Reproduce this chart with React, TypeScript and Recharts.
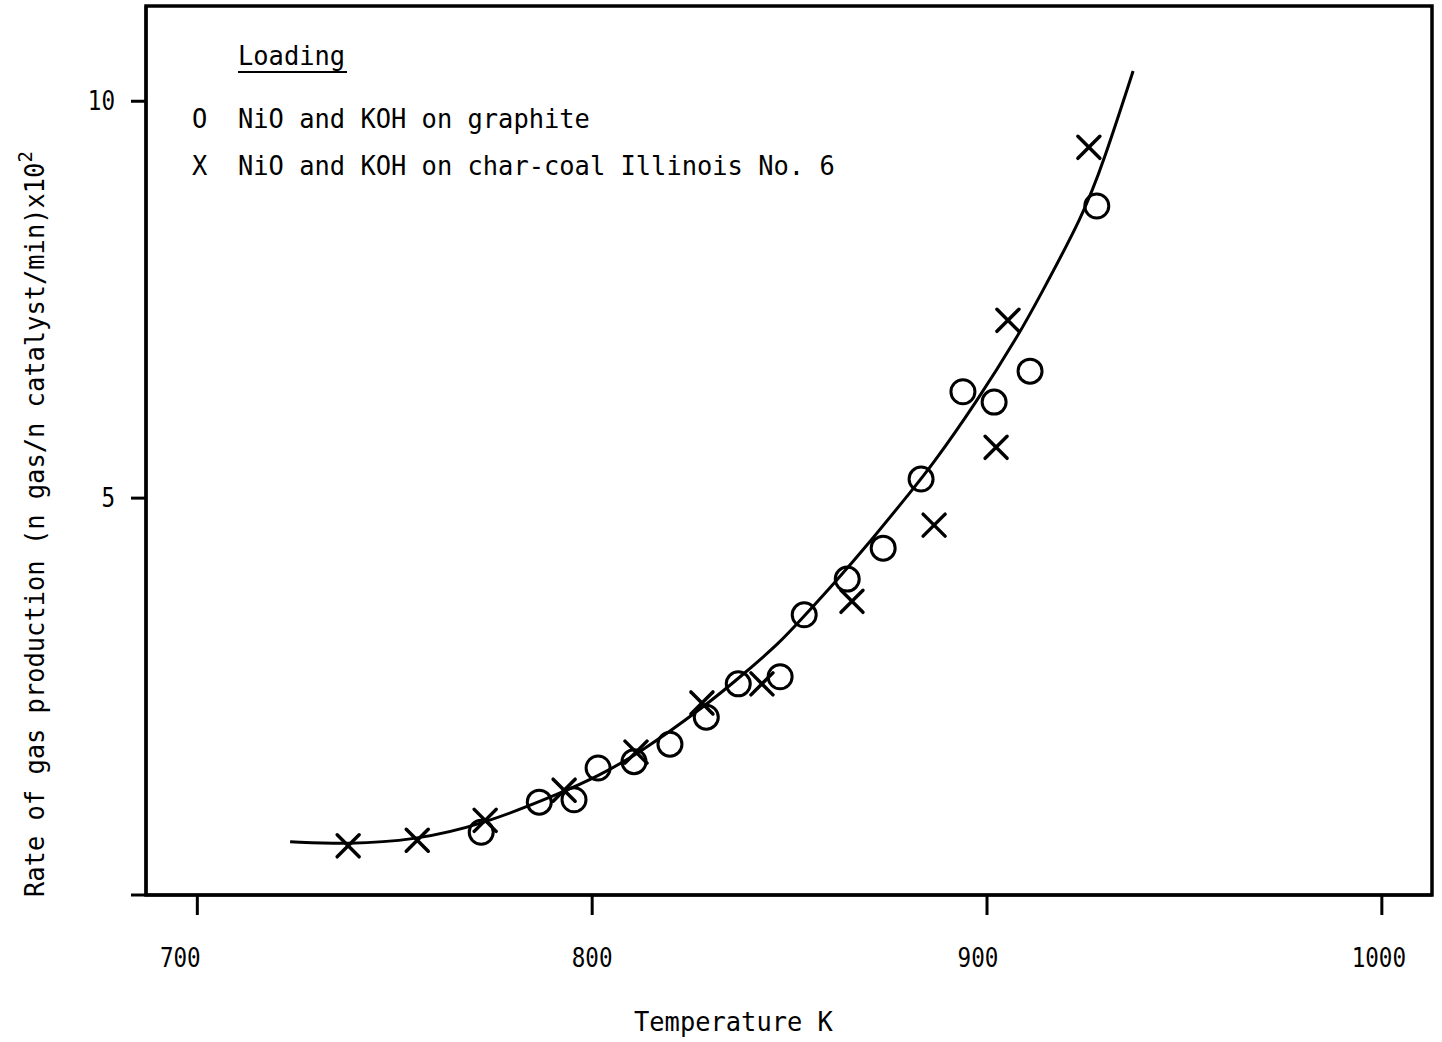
import React from 'react';
import { ComposedChart, Line, Scatter, XAxis, YAxis, ReferenceArea, Legend } from 'recharts';

// Fitted curve
const curveT = [723.5, 738.5, 754.7, 771.9, 792.9, 801.5, 811.1, 828.4, 839.2, 847.3, 852.7, 861.0, 870.4, 880.5, 885.6, 897.5, 908.4, 912.9, 924.3, 929.4, 937.0];
const curveV = [0.67, 0.64, 0.69, 0.88, 1.30, 1.50, 1.76, 2.37, 2.82, 3.17, 3.46, 3.91, 4.45, 5.07, 5.38, 6.22, 7.09, 7.50, 8.56, 9.22, 10.38];

// O : NiO and KOH on graphite
const graphiteT = [771.9, 786.6, 795.4, 801.5, 810.6, 819.7, 828.9, 837.0, 847.6, 853.7, 864.6, 873.7, 883.3, 893.9, 901.8, 910.9, 927.8];
const graphiteV = [0.79, 1.17, 1.20, 1.60, 1.68, 1.90, 2.24, 2.66, 2.75, 3.53, 3.98, 4.37, 5.24, 6.34, 6.21, 6.60, 8.68];

// X : NiO and KOH on char-coal Illinois No. 6
const charT = [738.2, 755.7, 772.9, 792.9, 811.1, 827.8, 843.0, 865.8, 886.6, 902.3, 905.3, 925.8];
const charV = [0.62, 0.69, 0.94, 1.32, 1.80, 2.42, 2.66, 3.70, 4.66, 5.64, 7.24, 9.42];

const xTicks = [700, 800, 900, 1000];
const yTicks = [0, 5, 10];
const xDomain: [number, number] = [687, 1012.7];
const yDomain: [number, number] = [0, 11.2];

const legendTitle = 'Loading';
const legendSymbols = ['O', 'X'];
const legendLabels = ['NiO and KOH on graphite', 'NiO and KOH on char-coal Illinois No. 6'];
const xLabel = 'Temperature K';
const yLabelMain = 'Rate of gas production (n gas/n catalyst/min)x10';
const yLabelSup = '2';

const curveData = curveT.map((t, i) => ({ t, v: curveV[i] }));
const graphiteData = graphiteT.map((t, i) => ({ t, v: graphiteV[i] }));
const charData = charT.map((t, i) => ({ t, v: charV[i] }));

const FONT = '"DejaVu Sans Mono", "Liberation Mono", monospace';
const FS = 27;
const PITCH = 15.3;
const TICK_FS = 26;
const TICK_PITCH = 13.6;

const xTickShift: Record<number, number> = { 700: -17, 800: 0, 900: -9, 1000: -3 };

const T = (props: any) => {
  const { children, pitch = PITCH, fontSize = FS, ...rest } = props;
  const s = String(children);
  return (
    <text {...rest} fontFamily={FONT} fontSize={fontSize} fill="#000" textLength={s.length * pitch} lengthAdjust="spacingAndGlyphs">
      {s}
    </text>
  );
};

const XTick = (props: any) => {
  const { x, y, payload } = props;
  return (
    <T x={x + (xTickShift[payload.value] || 0)} y={y} dy="0.73em" textAnchor="middle" fontSize={TICK_FS} pitch={TICK_PITCH}>
      {payload.value}
    </T>
  );
};

const YTick = (props: any) => {
  const { x, y, payload } = props;
  if (payload.value === 0) return null;
  return (
    <T x={x} y={y} dy="0.33em" textAnchor="end" fontSize={TICK_FS} pitch={TICK_PITCH}>
      {payload.value}
    </T>
  );
};

const CircleShape = (props: any) => {
  const { cx, cy } = props;
  return <circle cx={cx} cy={cy} r={12} fill="none" stroke="#000" strokeWidth={3} />;
};

const CrossShape = (props: any) => {
  const { cx, cy } = props;
  const d = 11;
  return (
    <g stroke="#000" strokeWidth={3.5} strokeLinecap="round">
      <line x1={cx - d} y1={cy - d} x2={cx + d} y2={cy + d} />
      <line x1={cx - d} y1={cy + d} x2={cx + d} y2={cy - d} />
    </g>
  );
};

const LegendContent = () => (
  <svg width={900} height={200} style={{ display: 'block', overflow: 'visible' }}>
    <T x={238} y={65}>{legendTitle}</T>
    <line x1={238} x2={347} y1={72} y2={72} stroke="#000" strokeWidth={2} />
    {legendLabels.map((lab, i) => (
      <g key={lab}>
        <T x={192} y={128 + i * 47}>{legendSymbols[i]}</T>
        <T x={238} y={128 + i * 47}>{lab}</T>
      </g>
    ))}
  </svg>
);

const XLabel = () => <T x={634} y={1031}>{xLabel}</T>;

const YLabel = () => (
  <text x={44} y={897} transform="rotate(-90 44 897)" fontFamily={FONT} fontSize={FS} fill="#000">
    <tspan textLength={yLabelMain.length * PITCH} lengthAdjust="spacingAndGlyphs">{yLabelMain}</tspan>
    <tspan dy={-12} fontSize={19}>{yLabelSup}</tspan>
  </text>
);

export default function App() {
  return (
    <div style={{ position: 'absolute', left: 0, top: 0, background: '#fff' }}>
      <ComposedChart width={1442} height={1042} margin={{ top: 6, right: 10, bottom: 0, left: 0 }}>
        <XAxis
          type="number"
          dataKey="t"
          domain={xDomain}
          ticks={xTicks}
          allowDataOverflow
          height={147}
          tickSize={20}
          tickMargin={33}
          tick={<XTick />}
          axisLine={{ stroke: '#000', strokeWidth: 3 }}
          tickLine={{ stroke: '#000', strokeWidth: 3 }}
          label={{ content: <XLabel /> }}
        />
        <YAxis
          type="number"
          dataKey="v"
          domain={yDomain}
          ticks={yTicks}
          allowDataOverflow
          width={146}
          tickSize={15}
          tickMargin={16}
          tick={<YTick />}
          axisLine={{ stroke: '#000', strokeWidth: 3 }}
          tickLine={{ stroke: '#000', strokeWidth: 3 }}
          label={{ content: <YLabel /> }}
        />
        <ReferenceArea x1={xDomain[0]} x2={xDomain[1]} y1={yDomain[0]} y2={yDomain[1]} fill="none" fillOpacity={0} stroke="#000" strokeWidth={3.5} />
        <Legend
          content={<LegendContent />}
          layout="horizontal"
          align="center"
          verticalAlign="middle"
          wrapperStyle={{ left: 0, top: 0, width: 900, height: 200 }}
        />
        <Line
          data={curveData}
          dataKey="v"
          type="basis"
          dot={false}
          stroke="#000"
          strokeWidth={3}
          isAnimationActive={false}
          legendType="none"
        />
        <Scatter name="graphite" data={graphiteData} dataKey="v" shape={<CircleShape />} isAnimationActive={false} />
        <Scatter name="charcoal" data={charData} dataKey="v" shape={<CrossShape />} isAnimationActive={false} />
      </ComposedChart>
    </div>
  );
}
